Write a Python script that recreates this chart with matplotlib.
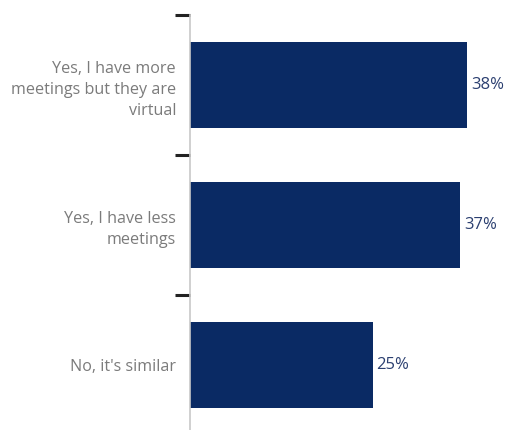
import matplotlib

matplotlib.use("Agg")
import matplotlib.pyplot as plt
from matplotlib.ticker import FixedLocator, NullLocator

categories = [
    "Yes, I have more\nmeetings but they are\nvirtual",
    "Yes, I have less\nmeetings",
    "No, it's similar",
]
shares = [38, 37, 25]

BAR_COLOR = "#0a2a64"
LABEL_COLOR = "#7b7b7b"
VALUE_COLOR = "#2b3f70"

plt.rcParams["font.family"] = ["Open Sans", "DejaVu Sans"]

figure = plt.figure(figsize=(5.12, 4.30), dpi=100)
axis = figure.add_axes([0.371, 0.0, 0.629, 0.965])

positions = list(range(len(categories)))
axis.barh(positions, shares, height=0.61, color=BAR_COLOR)

for pos, value in zip(positions, shares):
    axis.text(value + 0.55, pos, f"{value}%", va="center", ha="left",
              fontsize=12, color=VALUE_COLOR)

axis.set_xlim(0, 44.1)
axis.set_ylim(2.464, -0.5)

# category labels placed at bar centres, ticks drawn at the boundaries
axis.yaxis.set_major_locator(FixedLocator(positions))
axis.set_yticklabels(categories, fontsize=11.6, color=LABEL_COLOR,
                     linespacing=1.42)
axis.tick_params(axis="y", which="major", length=0, pad=10)
axis.yaxis.set_minor_locator(FixedLocator([-0.5, 0.5, 1.5]))
axis.tick_params(axis="y", which="minor", length=11, width=2.2,
                 color="#222222")
axis.xaxis.set_major_locator(NullLocator())

for side in ("top", "right", "bottom"):
    axis.spines[side].set_visible(False)
axis.spines["left"].set_color("#c8c8c8")
axis.spines["left"].set_linewidth(1.2)

figure.savefig("out.png", dpi=100)
plt.close(figure)
